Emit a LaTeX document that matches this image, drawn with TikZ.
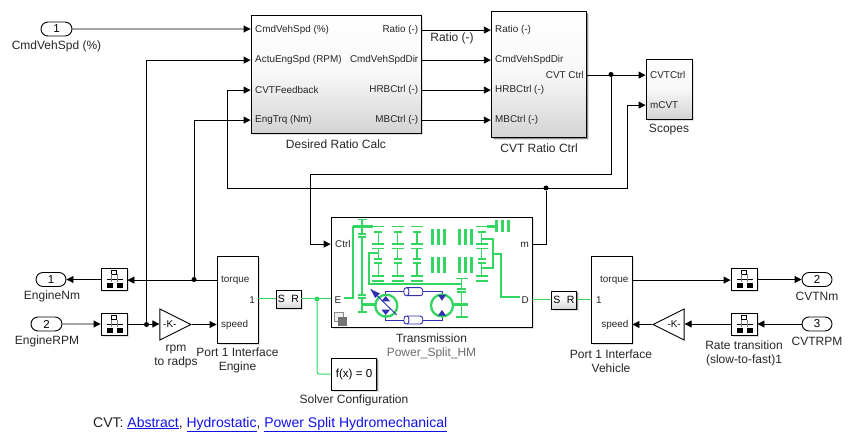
\documentclass[tikz,border=0pt]{standalone}
\usepackage{fontspec}
\setmainfont{Liberation Sans}
\usetikzlibrary{arrows.meta,calc,shadows,shapes.geometric,shapes.misc}

\definecolor{netgreen}{RGB}{52,214,98}
\definecolor{oilblue}{RGB}{48,48,176}
\definecolor{linkblue}{RGB}{16,16,235}

\tikzset{
	softshadow/.style={drop shadow={shadow xshift=2.4pt,shadow yshift=-2.4pt,fill=black,opacity=.12},drop shadow={shadow xshift=1.4pt,shadow yshift=-1.4pt,fill=black,opacity=.35}},
	block/.style={draw,line width=0.9pt,fill=white,inner sep=0pt,softshadow},
	gradblock/.style={block,top color=white,bottom color=black!17,middle color=black!3},
	pill/.style={draw,line width=0.9pt,rounded rectangle,fill=white,minimum width=31pt,minimum height=14pt,inner sep=0pt,font=\fontsize{11.5}{13}\selectfont},
	ratebox/.style={block,minimum width=26pt,minimum height=22pt},
	srbox/.style={gradblock,minimum width=25pt,minimum height=18pt,font=\fontsize{10.5}{12}\selectfont},
	gainbox/.style={draw,line width=0.9pt,fill=white,isosceles triangle,isosceles triangle stretches,inner sep=0pt,minimum width=31pt,minimum height=31pt},
	lbl/.style={inner sep=0pt,align=center,font=\fontsize{12}{14}\selectfont,text=black!85,yshift=-0.8pt},
	portlbl/.style={inner sep=0pt,font=\fontsize{9.9}{11}\selectfont,text=black!85,yshift=-0.6pt},
	sig/.style={line width=0.9pt,-{Triangle[length=7pt,width=7pt]}},
	sigplain/.style={line width=0.9pt},
	net/.style={line width=1pt,color=netgreen,rounded corners=2pt},
	dot/.style={circle,fill=black,inner sep=0pt,minimum size=5pt},
	netdot/.style={circle,fill=netgreen,inner sep=0pt,minimum size=5pt},
	gear/.style={line width=1.3pt,color=netgreen},
	gearmid/.style={line width=2pt,color=netgreen},
	gearthick/.style={line width=2.8pt,color=netgreen},
	oil/.style={line width=0.9pt,color=oilblue},
}
\def\ratesign(#1){\begin{scope}[shift={(#1)}]
	\draw[line width=0.8pt,fill=white] (-2.8,-8.4) rectangle (2.8,-4.8);
	\draw[line width=0.7pt] (-7.5,0.3) -- (9,0.3);
	\fill (-7.5,3.6) rectangle (-1.5,9);
	\fill (3,3.6) rectangle (9,9);
	\draw[line width=0.4pt,color=black!50] (-3,-4.5) -- (-3,3) (3,-4.5) -- (3,3);
\end{scope}}

\begin{document}
\begin{tikzpicture}[x=1pt,y=-1pt]
	\useasboundingbox (0,0) rectangle (853,443);

	%%%%% TOP ROW %%%%%

	\node[pill] (cmdIn) at (56.5,29) {1};
	\node[lbl] (cmdLbl) at (56.5,46) {CmdVehSpd (\%)};

	\node[gradblock,minimum width=170pt,minimum height=118pt] (ratioCalc) at (336,74) {};
	\node[lbl] (ratioCalcLbl) at (336,143) {Desired Ratio Calc};
	\node[portlbl,anchor=west] (calcA) at (255,29.5) {CmdVehSpd (\%)};
	\node[portlbl,anchor=west] (calcB) at (255,59.5) {ActuEngSpd (RPM)};
	\node[portlbl,anchor=west] (calcC) at (255,89.5) {CVTFeedback};
	\node[portlbl,anchor=west] (calcD) at (255,119.5) {EngTrq (Nm)};
	\node[portlbl,anchor=east] (calcE) at (418.5,29.5) {Ratio (-)};
	\node[portlbl,anchor=east] (calcF) at (418.5,59.5) {CmdVehSpdDir};
	\node[portlbl,anchor=east] (calcG) at (418.5,89.5) {HRBCtrl (-)};
	\node[portlbl,anchor=east] (calcH) at (418.5,119.5) {MBCtrl (-)};

	\node[gradblock,minimum width=95.5pt,minimum height=125.5pt] (ratioCtrl) at (539,74.5) {};
	\node[lbl] (ratioCtrlLbl) at (539,147) {CVT Ratio Ctrl};
	\node[portlbl,anchor=west] (ctrlA) at (495,29.5) {Ratio (-)};
	\node[portlbl,anchor=west] (ctrlB) at (495,59.5) {CmdVehSpdDir};
	\node[portlbl,anchor=west] (ctrlC) at (495,89.5) {HRBCtrl (-)};
	\node[portlbl,anchor=west] (ctrlD) at (495,119.5) {MBCtrl (-)};
	\node[portlbl,anchor=east] (ctrlE) at (584,74.5) {CVT Ctrl};
	\node[lbl] (ratioLbl) at (452,38) {Ratio (-)};

	\node[gradblock,minimum width=46pt,minimum height=60pt] (scopes) at (669,89) {};
	\node[lbl] (scopesLbl) at (669,129) {Scopes};
	\node[portlbl,anchor=west] (scopeA) at (650,74.5) {CVTCtrl};
	\node[portlbl,anchor=west] (scopeB) at (650,104.5) {mCVT};

	%%%%% MIDDLE %%%%%

	\node[block,minimum width=201pt,minimum height=110pt] (trans) at (431.5,272) {};
	\node[lbl] (transLbl) at (431.5,337) {Transmission};
	\node[lbl,text=black!58] (transSub) at (431.5,353) {Power\_Split\_HM};
	\node[portlbl,anchor=west] (transCtrl) at (335,243.5) {Ctrl};
	\node[portlbl,anchor=west] (transE) at (334.5,299) {E};
	\node[portlbl,anchor=east] (transM) at (529,244) {m};
	\node[portlbl,anchor=east] (transD) at (529,299) {D};

	\node[block,minimum width=45.5pt,minimum height=32pt] (solver) at (354,374) {\fontsize{11.6}{13}\selectfont f(x) = 0};
	\node[lbl] (solverLbl) at (354,400) {Solver Configuration};

	% hidden corner badge of the masked block
	\draw[line width=0.6pt,color=black!45,fill=black!6] (334,312) rectangle (343,321);
	\fill[color=black!55] (337.5,316.5) rectangle (347,325.5);

	%%%%% LEFT ROW %%%%%

	\node[pill,minimum width=30pt] (nmOut) at (51,279.5) {1};
	\node[lbl] (nmLbl) at (52,296) {EngineNm};
	\node[pill] (rpmIn) at (46.5,324) {2};
	\node[lbl] (rpmLbl) at (47,341) {EngineRPM};
	\node[ratebox] (rateA) at (114,279) {};
	\node[ratebox] (rateB) at (114,324) {};
	\ratesign(rateA.center)
	\ratesign(rateB.center)

	\node[gainbox,anchor=apex] (gainA) at (192,324.5) {\fontsize{9.9}{11}\selectfont-K-};
	\node[lbl] (gainLbl) at (176,356) {rpm\\to radps};

	\node[block,minimum width=41pt,minimum height=87pt] (ifEng) at (237.5,299.5) {};
	\node[lbl] (ifEngLbl) at (237.5,360) {Port 1 Interface\\Engine};
	\node[portlbl,anchor=west] (ifEngA) at (221,279.5) {torque};
	\node[portlbl,anchor=west] (ifEngB) at (221,324.5) {speed};
	\node[portlbl,anchor=east] (ifEngC) at (255,299.5) {1};

	\node[srbox] (srA) at (288.5,299) {S\hspace{6.5pt}R};

	%%%%% RIGHT ROW %%%%%

	\node[srbox] (srB) at (564,300) {S\hspace{6.5pt}R};

	\node[block,minimum width=41pt,minimum height=87pt] (ifVeh) at (611.5,299.5) {};
	\node[lbl] (ifVehLbl) at (611,360) {Port 1 Interface\\Vehicle};
	\node[portlbl,anchor=east] (ifVehA) at (628.5,279.5) {torque};
	\node[portlbl,anchor=east] (ifVehB) at (628.5,324.5) {speed};
	\node[portlbl,anchor=west] (ifVehC) at (596,299.5) {1};

	\node[gainbox,anchor=apex,shape border rotate=180] (gainB) at (652,324.5) {\fontsize{9.9}{11}\selectfont-K-};

	\node[ratebox] (rateC) at (744,279) {};
	\node[ratebox] (rateD) at (744,324) {};
	\ratesign(rateC.center)
	\ratesign(rateD.center)
	\node[lbl] (rateLbl) at (744,352.5) {Rate transition\\(slow-to-fast)1};

	\node[pill,minimum width=30pt] (nmOutB) at (817,279.5) {2};
	\node[lbl] (nmOutBLbl) at (817,296) {CVTNm};
	\node[pill,minimum width=30pt] (rpmInB) at (817,324) {3};
	\node[lbl] (rpmInBLbl) at (817,341) {CVTRPM};

	%%%%% JUNCTIONS %%%%%

	\node[dot] (dotCvt) at (611,74.5) {};
	\node[dot] (dotM) at (546,188) {};
	\node[dot] (dotTrq) at (194,279.5) {};
	\node[dot] (dotSpd) at (146.5,324.5) {};
	\node[netdot] (dotE) at (317,299) {};

	\coordinate (cvtCorner) at (310,174);
	\coordinate (fbCorner) at (227,188);
	\coordinate (mCorner) at (627.5,188);

	%%%%% SIGNALS %%%%%

	\draw[sig] (cmdIn) -- (cmdIn -| ratioCalc.west);
	\draw[sig] (dotSpd) |- (calcB -| ratioCalc.west);
	\draw[sig] (fbCorner) |- (calcC -| ratioCalc.west);
	\draw[sig] (dotTrq) |- (calcD -| ratioCalc.west);

	\draw[sig] (calcE -| ratioCalc.east) -- (ctrlA -| ratioCtrl.west);
	\draw[sig] (calcF -| ratioCalc.east) -- (ctrlB -| ratioCtrl.west);
	\draw[sig] (calcG -| ratioCalc.east) -- (ctrlC -| ratioCtrl.west);
	\draw[sig] (calcH -| ratioCalc.east) -- (ctrlD -| ratioCtrl.west);

	\draw[sig] (ctrlE -| ratioCtrl.east) -- (scopeA -| scopes.west);
	\draw[sig] (dotCvt) |- (cvtCorner) |- (transCtrl -| trans.west);
	\draw[sigplain] (fbCorner) -- (mCorner);
	\draw[sig] (mCorner) |- (scopeB -| scopes.west);
	\draw[sigplain] (dotM) |- (transM -| trans.east);

	\draw[sig] (ifEngA -| ifEng.west) -- (rateA.east |- ifEngA);
	\draw[sig] (rateA.west |- nmOut) -- (nmOut.east);
	\draw[sig] (rpmIn) -- (rpmIn -| rateB.west);
	\draw[sig] (rateB.east |- rpmIn) -- (gainA.west |- rpmIn);
	\draw[sig] (gainA.apex) -- (gainA.apex -| ifEng.west);

	\draw[sig] (ifVehA -| ifVeh.east) -- (ifVehA -| rateC.west);
	\draw[sig] (rateC.east |- nmOutB) -- (nmOutB.west);
	\draw[sig] (rpmInB) -- (rpmInB -| rateD.east);
	\draw[sig] (rateD.west |- rpmInB) -- (gainB.east |- rpmInB);
	\draw[sig] (gainB.apex) -- (gainB.apex -| ifVeh.east);

	%%%%% PHYSICAL NETWORK %%%%%

	\draw[net] (ifEng.east |- srA) -- (srA);
	\draw[net] (srA) -- (trans.west |- srA);
	\draw[net] (dotE) |- (solver.west);
	\draw[net] (trans.east |- srB) -- (srB);
	\draw[net] (srB) -- (ifVeh.west |- srB);

	%%%%% TRANSMISSION ICON %%%%%

	% input shaft
	\draw[gearmid] (344,298) -- (352.7,298) -- (352.7,226.7) -- (362,226.7);
	\draw[gearthick] (352.7,226.7) -- (372.7,226.7);
	\draw[gear] (357.5,219.7) -- (367,219.7) (362,219.7) -- (362,234) (362,237) -- (362,295) (362,298) -- (362,312) (357.5,312) -- (367,312);
	\draw[gearmid] (358,234) -- (366,234) (358,237.5) -- (366,237.5) (358,295) -- (366,295) (358,298.5) -- (366,298.5);
	\draw[gearthick] (362,304.5) -- (375,304.5);

	% planetary columns
	\foreach \xc in {378.3,397.5,417,481.7} {
		\draw[gear] (\xc-6,226.7) -- (\xc+6,226.7) (\xc,232) -- (\xc,244) (\xc-6,244) -- (\xc+6,244);
		\draw[gear] (\xc-6,248.3) -- (\xc+6,248.3) (\xc,248.3) -- (\xc,259) (\xc,263) -- (\xc,276) (\xc-6,276) -- (\xc+6,276);
		\draw[gear] (\xc-6,281) -- (\xc+6,281);
		\draw[gearmid] (\xc-4,232) -- (\xc+4,232) (\xc-4,259.3) -- (\xc+4,259.3) (\xc-4,263) -- (\xc+4,263);
	}

	% clutch packs
	\foreach \xb in {432.7,438.5,444.5,459.3,465.2,471.7} {
		\draw[gearthick] (\xb,229) -- (\xb,245.5);
		\draw[gearthick] (\xb,257.3) -- (\xb,273);
	}
	\draw[gearthick] (487,226.7) -- (497,226.7);
	\foreach \xb in {496.7,502.7,508.3} {
		\draw[gearthick] (\xb,220) -- (\xb,232);
	}

	% carrier and output
	\draw[gearmid] (378.3,253.5) -- (368.7,253.5) -- (368.7,284) -- (461.7,284);
	\draw[gear] (456,278.3) -- (468,278.3) (461.7,278.3) -- (461.7,288.5) (461.7,292.3) -- (461.7,317) (456,317) -- (468,317);
	\draw[gearmid] (457,289) -- (466,289) (457,292.3) -- (466,292.3);
	\draw[gearthick] (453,304.5) -- (468,304.5);
	\draw[gearmid] (481.7,239.3) -- (493.3,239.3) -- (493.3,267.7) -- (481.7,267.7);
	\draw[gearmid] (493.3,253.7) -- (501,253.7) -- (501,297.5) -- (520,297.5);

	% hydrostatic unit
	\draw[oil] (385.7,296) -- (385.7,291.7) -- (442,291.7) -- (442,295);
	\draw[oil] (385.7,315) -- (385.7,320) -- (442,320) -- (442,315);
	\draw[gear,line width=2.3pt] (386.3,305.7) circle (11);
	\draw[gear,line width=2.3pt] (442,305.5) circle (11);
	\fill[color=oilblue] (385.7,296) -- (381.5,301.3) -- (390,301.3) -- cycle;
	\fill[color=oilblue] (385.7,315) -- (381.5,309.7) -- (390,309.7) -- cycle;
	\fill[color=oilblue] (442,300.7) -- (438,295) -- (446,295) -- cycle;
	\fill[color=oilblue] (442,310) -- (438,315.5) -- (446,315.5) -- cycle;
	\draw[oil] (370.7,289.3) -- (396.7,315);
	\fill[color=oilblue] (370.7,289.3) -- (380,293.5) -- (375,298) -- cycle;
	\foreach \yc in {291.7,320} {
		\draw[oil,fill=white,rounded corners=2.5pt] (404,\yc-4) rectangle (422.7,\yc+4);
		\draw[oil] (407,\yc-4) arc (90:270:-2 and -4);
	}

	%%%%% FOOTER %%%%%

	\node[inner sep=0pt,anchor=west,font=\fontsize{14}{16}\selectfont,text=black!88,yshift=-1.5pt] (footer) at (93,423) {CVT: \textcolor{linkblue}{\underline{Abstract}}, \textcolor{linkblue}{\underline{Hydrostatic}}, \textcolor{linkblue}{\underline{Power Split Hydromechanical}}};

\end{tikzpicture}
\end{document}
